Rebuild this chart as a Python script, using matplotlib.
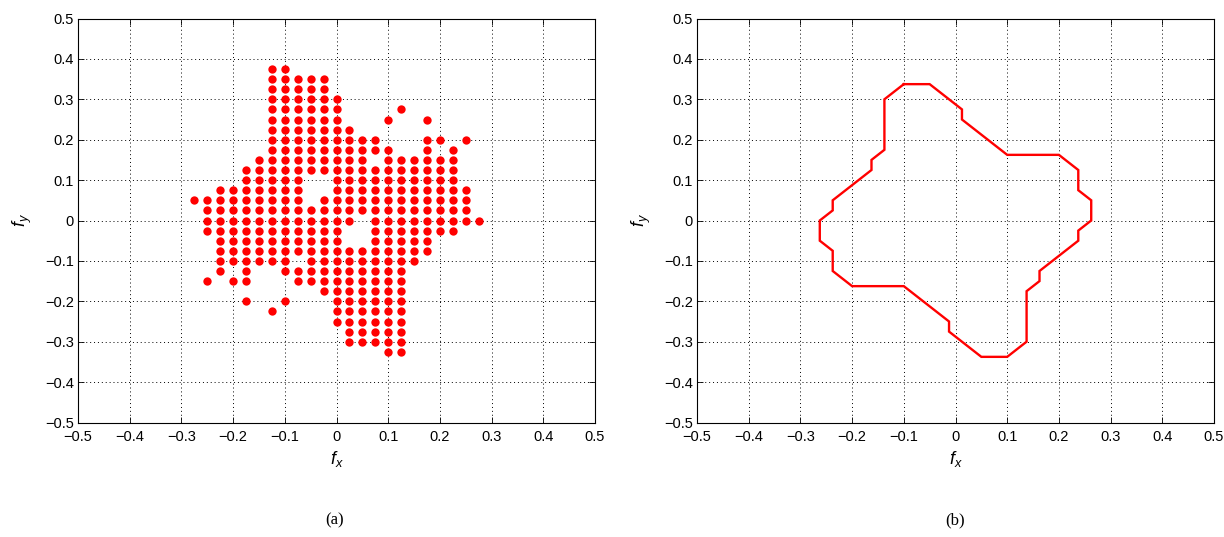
import matplotlib
matplotlib.use("Agg")
import matplotlib.pyplot as plt
import numpy as np

plt.rcParams['font.family'] = ['Liberation Sans', 'DejaVu Sans']
plt.rcParams['mathtext.fontset'] = 'custom'
plt.rcParams['mathtext.rm'] = 'Liberation Sans'
plt.rcParams['mathtext.it'] = 'Liberation Sans:italic'

# ---- data -------------------------------------------------------------
grid_step = 0.025
# (a) sample points: row index (fy / step) -> column indices (fx / step)
row_15 = [-5, -4]
row_14 = [-5, -4, -3, -2, -1]
row_13 = [-5, -4, -3, -2, -1]
row_12 = [-5, -4, -3, -2, -1, 0]
row_11 = [-5, -4, -3, -2, -1, 0, 5]
row_10 = [-5, -4, -3, -2, -1, 0, 4, 7]
row_9 = [-5, -4, -3, -2, -1, 0, 1]
row_8 = [-5, -4, -3, -2, -1, 0, 1, 2, 3, 7, 8, 10]
row_7 = [-5, -4, -3, -2, -1, 0, 1, 2, 3, 4, 7, 9]
row_6 = [-6, -5, -4, -3, -2, -1, 0, 1, 2, 4, 5, 6, 7, 8, 9]
row_5 = [-7, -6, -5, -4, -3, -2, -1, 0, 1, 2, 3, 4, 5, 6, 7, 8, 9]
row_4 = [-7, -6, -5, -4, -3, 0, 1, 2, 3, 4, 5, 6, 7, 8, 9]
row_3 = [-9, -8, -7, -6, -5, -4, -3, 0, 1, 2, 3, 4, 5, 6, 7, 8, 9, 10]
row_2 = [-11, -10, -9, -8, -7, -6, -5, -4, -3, -1, 0, 1, 2, 3, 4, 5, 6, 7, 8, 9, 10]
row_1 = [-10, -9, -8, -7, -6, -5, -4, -3, -2, -1, 0, 1, 2, 3, 4, 5, 6, 7, 8, 9, 10]
row_0 = [-10, -9, -8, -7, -6, -5, -4, -3, -2, -1, 0, 1, 3, 4, 5, 6, 7, 8, 9, 10, 11]
row_m1 = [-10, -9, -8, -7, -6, -5, -4, -3, -2, -1, 0, 3, 4, 5, 6, 7, 8, 9]
row_m2 = [-9, -8, -7, -6, -5, -4, -3, -2, -1, 0, 3, 4, 5, 6, 7]
row_m3 = [-9, -8, -7, -6, -5, -4, -3, -2, -1, 0, 1, 2, 3, 4, 5, 6, 7]
row_m4 = [-9, -8, -7, -6, -5, -4, -2, -1, 0, 1, 2, 3, 4, 5, 6]
row_m5 = [-9, -7, -4, -3, -2, -1, 0, 1, 2, 3, 4, 5]
row_m6 = [-10, -8, -7, -3, -2, -1, 0, 1, 2, 3, 4, 5]
row_m7 = [-1, 0, 1, 2, 3, 4, 5]
row_m8 = [-7, -4, 0, 1, 2, 3, 4, 5]
row_m9 = [-5, 0, 1, 2, 3, 4, 5]
row_m10 = [0, 1, 2, 3, 4, 5]
row_m11 = [1, 2, 3, 4, 5]
row_m12 = [1, 2, 3, 4, 5]
row_m13 = [4, 5]

rows = {15: row_15, 14: row_14, 13: row_13, 12: row_12, 11: row_11, 10: row_10,
        9: row_9, 8: row_8, 7: row_7, 6: row_6, 5: row_5, 4: row_4, 3: row_3,
        2: row_2, 1: row_1, 0: row_0, -1: row_m1, -2: row_m2, -3: row_m3,
        -4: row_m4, -5: row_m5, -6: row_m6, -7: row_m7, -8: row_m8, -9: row_m9,
        -10: row_m10, -11: row_m11, -12: row_m12, -13: row_m13}

# (b) outline vertices
outline_fx = [-0.1, -0.05, 0.0125, 0.0125, 0.1, 0.2, 0.2375, 0.2375, 0.2625, 0.2625,
              0.2375, 0.2375, 0.1625, 0.1625, 0.1375, 0.1375, 0.1, 0.05, -0.0125, -0.0125,
              -0.1, -0.2, -0.2375, -0.2375, -0.2625, -0.2625, -0.2375, -0.2375, -0.1625,
              -0.1625, -0.1375, -0.1375, -0.1]
outline_fy = [0.3375, 0.3375, 0.275, 0.25, 0.1625, 0.1625, 0.125, 0.075, 0.05, 0.0,
              -0.025, -0.05, -0.125, -0.15, -0.175, -0.3, -0.3375, -0.3375, -0.275, -0.25,
              -0.1625, -0.1625, -0.125, -0.075, -0.05, 0.0, 0.025, 0.05, 0.125,
              0.15, 0.175, 0.3, 0.3375]

ticks = [-0.5, -0.4, -0.3, -0.2, -0.1, 0, 0.1, 0.2, 0.3, 0.4, 0.5]
tick_labels = ['\u22120.5', '\u22120.4', '\u22120.3', '\u22120.2', '\u22120.1', '0',
               '0.1', '0.2', '0.3', '0.4', '0.5']
panel_labels = ['(a)', '(b)']

# ---- figure -----------------------------------------------------------
W, H = 1224, 537
fig = plt.figure(figsize=(W / 100, H / 100), dpi=100)

ax_w = 517 / W
ax_h = 404 / H
ax_b = 1 - 422.5 / H
ax1 = fig.add_axes([78 / W, ax_b, ax_w, ax_h])
ax2 = fig.add_axes([697 / W, ax_b, ax_w, ax_h])

px, py = [], []
for j, cols in rows.items():
    for i in cols:
        px.append(i * grid_step)
        py.append(j * grid_step)
ax1.plot(px, py, 'o', color='#ff0000', markersize=6, markeredgewidth=0, zorder=3)

ax2.plot(outline_fx, outline_fy, '-', color='#ff0000', linewidth=1.7, zorder=3,
         solid_joinstyle='miter')

for ax, lab, cx in [(ax1, panel_labels[0], 335), (ax2, panel_labels[1], 955)]:
    ax.set_xlim(-0.5, 0.5)
    ax.set_ylim(-0.5, 0.5)
    ax.set_xticks(ticks)
    ax.set_yticks(ticks)
    ax.set_xticklabels(tick_labels)
    ax.set_yticklabels(tick_labels)
    ax.tick_params(direction='in', length=4, width=0.6, top=True, right=True,
                   labelsize=10.5, colors='black')
    ax.tick_params(axis='x', pad=5.5)
    ax.tick_params(axis='y', pad=3)
    ax.grid(True, linestyle=(0, (1, 3)), color='black', linewidth=0.7)
    ax.set_axisbelow(True)
    for s in ax.spines.values():
        s.set_linewidth(0.8)
        s.set_color('black')
    ax.set_xlabel(r'$f_x$', fontsize=13)
    ax.set_ylabel(r'$f_y$', fontsize=13)
    ax.xaxis.set_label_coords(0.5, -0.065)
    ax.yaxis.set_label_coords(-0.085, 0.5)
    fig.text(cx / W, 1 - 520 / H, lab, ha='center', va='center',
             fontsize=12, family='Liberation Serif')

fig.savefig('out.png', dpi=100)
